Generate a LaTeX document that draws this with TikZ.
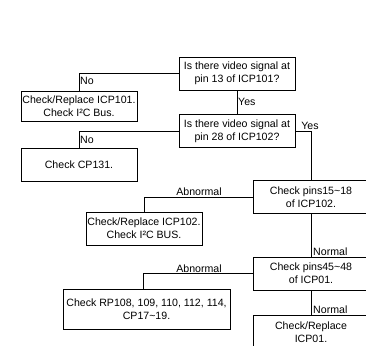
\documentclass[tikz,border=0pt]{standalone}
\usepackage{fontspec}
\setmainfont{Liberation Sans}
\begin{document}
\begin{tikzpicture}[x=1pt,y=-1pt,
  txt/.style={font=\fontsize{10.6}{12.8}\selectfont},
  box/.style={txt, draw, line width=0.8pt, align=center, inner sep=0pt, minimum width=116pt, minimum height=33pt},
  lbl/.style={txt, inner sep=1pt},
  conn/.style={draw, line width=0.8pt}]
\useasboundingbox (0,0) rectangle (366,345);
\node[box] (q1) at (237,73.5) {Is there video signal at\\pin 13 of ICP101?};
\node[box, minimum height=30pt] (r1) at (79,106) {Check/Replace ICP101.\\Check I²C Bus.};
\node[box] (q2) at (237,131) {Is there video signal at\\pin 28 of ICP102?};
\node[box, minimum height=33pt] (cp) at (79,164.5) {Check CP131.};
\node[box] (p1) at (311,197) {Check pins15\textasciitilde18\\of ICP102.};
\node[box] (r2) at (144,228.5) {Check/Replace ICP102.\\Check I²C BUS.};
\node[box] (p2) at (311,273.5) {Check pins45\textasciitilde48\\of ICP01.};
\node[box, minimum width=167pt, minimum height=40pt] (rp) at (146.5,309) {Check RP108, 109, 110, 112, 114,\\CP17\textasciitilde19.};
\node[box] (fin) at (311,332) {Check/Replace\\ICP01.};
\coordinate (rpn) at ([xshift=-3.5pt]rp.north);
\draw[conn] (q1.west) -| (r1.north);
\draw[conn] (q1.south) -- (q2.north);
\draw[conn] (q2.west) -| (cp.north);
\draw[conn] (q2.east) -| (p1.north);
\draw[conn] (p1.west) -| (r2.north);
\draw[conn] (p1.south) -- (p2.north);
\draw[conn] (p2.west) -| (rpn);
\draw[conn] (p2.south) -- (fin.north);
\node[lbl, anchor=west] (no1) at (79,81) {No};
\node[lbl, anchor=west] (yes1) at (237,102) {Yes};
\node[lbl, anchor=west] (no2) at (79,139.5) {No};
\node[lbl, anchor=south] (yes2) at (310,131) {Yes};
\node[lbl, anchor=south] (ab1) at (199,197) {Abnormal};
\node[lbl, anchor=south west] (n1) at ([xshift=1pt]p2.north) {Normal};
\node[lbl, anchor=south] (ab2) at (199,273.5) {Abnormal};
\node[lbl, anchor=south west] (n2) at ([xshift=1pt]fin.north) {Normal};
\end{tikzpicture}
\end{document}
